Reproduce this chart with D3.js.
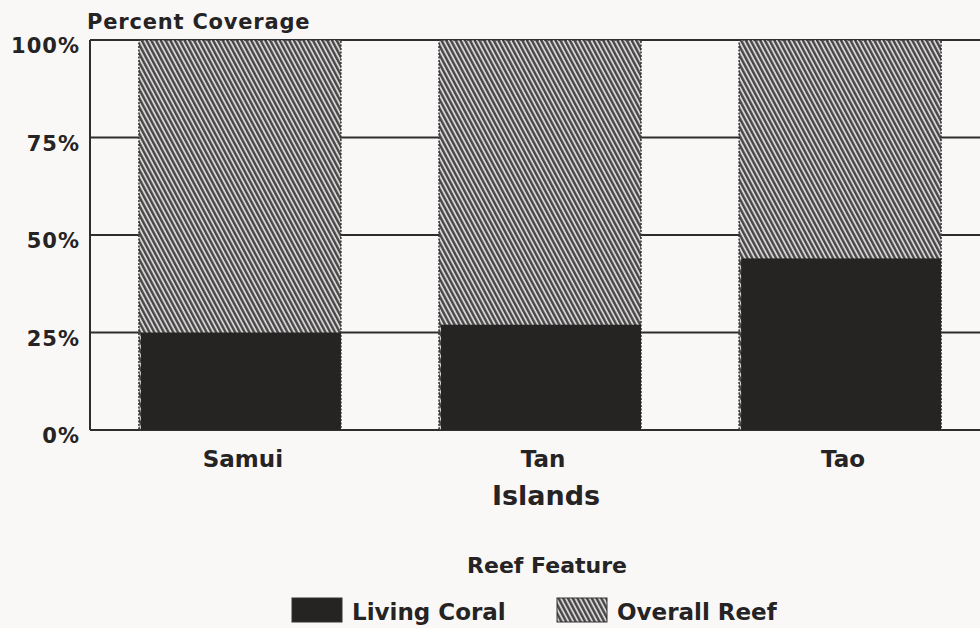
<!DOCTYPE html>
<html>
<head>
	<script src="https://d3js.org/d3.v7.min.js"></script>
	<style>
		body { margin: 0; background: #f9f8f7; }
		text { font-family: "DejaVu Sans", sans-serif; font-weight: bold; fill: #252323; }
	</style>
</head>
<body>
	<div class="chart"></div>
	<script>
		// data
		var islands = ["Samui", "Tan", "Tao"];
		var livingCoral = [25, 27, 44];
		var overallReef = [100, 100, 100];
		var yTicks = [0, 25, 50, 75, 100];
		var legendNames = ["Living Coral", "Overall Reef"];

		var w = 980, h = 628;
		var mLeft = 90, mTop = 40, mBottom = 430, mRight = 990;

		var svg = d3.select(".chart")
			.append("svg")
			.attr("width", w)
			.attr("height", h);

		// hatch for overall reef
		var defs = svg.append("defs");
		var pat = defs.append("pattern")
			.attr("id", "hatch")
			.attr("patternUnits", "userSpaceOnUse")
			.attr("width", 4.2)
			.attr("height", 10)
			.attr("patternTransform", "rotate(-28)");
		pat.append("rect")
			.attr("width", 4.2)
			.attr("height", 10)
			.attr("fill", "#d4d2d2");
		pat.append("line")
			.attr("x1", 1.2).attr("x2", 1.2)
			.attr("y1", 0).attr("y2", 10)
			.attr("stroke", "#464344")
			.attr("stroke-width", 2.3);

		var x = d3.scaleBand()
			.domain(islands)
			.range([mLeft, mRight])
			.paddingInner(0.327)
			.paddingOuter(0.163);

		var y = d3.scaleLinear()
			.domain([0, 100])
			.range([mBottom, mTop]);

		// gridlines (sit behind the bars)
		svg.append("g")
			.selectAll("line")
			.data(yTicks)
			.enter()
			.append("line")
			.attr("x1", mLeft)
			.attr("x2", w)
			.attr("y1", function(d) { return y(d); })
			.attr("y2", function(d) { return y(d); })
			.attr("stroke", "#2e2c2c")
			.attr("stroke-width", 1.8);

		// left border
		svg.append("line")
			.attr("x1", mLeft).attr("x2", mLeft)
			.attr("y1", y(100)).attr("y2", y(0))
			.attr("stroke", "#2e2c2c")
			.attr("stroke-width", 2);

		// overall reef (full bar, hatched)
		svg.append("g")
			.selectAll("rect")
			.data(islands)
			.enter()
			.append("rect")
			.attr("x", function(d) { return x(d); })
			.attr("y", function(d, i) { return y(overallReef[i]); })
			.attr("width", x.bandwidth())
			.attr("height", function(d, i) { return y(0) - y(overallReef[i]); })
			.attr("fill", "url(#hatch)")
			.attr("stroke", "#333")
			.attr("stroke-width", 1.5)
			.attr("stroke-dasharray", "2,1.5");

		// living coral
		svg.append("g")
			.selectAll("rect")
			.data(islands)
			.enter()
			.append("rect")
			.attr("x", function(d) { return x(d) + 2; })
			.attr("y", function(d, i) { return y(livingCoral[i]); })
			.attr("width", x.bandwidth() - 2)
			.attr("height", function(d, i) { return y(0) - y(livingCoral[i]); })
			.attr("fill", "#262323");

		// y tick labels
		svg.append("g")
			.selectAll("text")
			.data(yTicks)
			.enter()
			.append("text")
			.attr("x", 80)
			.attr("y", function(d) { return y(d) + 13; })
			.attr("text-anchor", "end")
			.style("font-size", "21px")
			.style("letter-spacing", "1px")
			.text(function(d) { return d + "%"; });

		svg.append("text")
			.attr("x", 87)
			.attr("y", 29)
			.style("font-size", "21px")
			.style("letter-spacing", "0.8px")
			.text("Percent Coverage");

		// category labels
		svg.append("g")
			.selectAll("text")
			.data(islands)
			.enter()
			.append("text")
			.attr("x", function(d) { return x(d) + x.bandwidth() / 2 + 3; })
			.attr("y", 467)
			.attr("text-anchor", "middle")
			.style("font-size", "23px")
			.text(function(d) { return d; });

		svg.append("text")
			.attr("x", 546)
			.attr("y", 505)
			.attr("text-anchor", "middle")
			.style("font-size", "27px")
			.text("Islands");

		// legend
		svg.append("text")
			.attr("x", 547)
			.attr("y", 573)
			.attr("text-anchor", "middle")
			.style("font-size", "22px")
			.text("Reef Feature");

		var legendX = [292, 557];
		var legendFill = ["#262323", "url(#hatch)"];
		var lg = svg.append("g")
			.selectAll("g")
			.data(legendNames)
			.enter()
			.append("g")
			.attr("transform", function(d, i) { return "translate(" + legendX[i] + ",598)"; });
		lg.append("rect")
			.attr("width", 50)
			.attr("height", 24)
			.attr("fill", function(d, i) { return legendFill[i]; })
			.attr("stroke", "#333")
			.attr("stroke-width", 1);
		lg.append("text")
			.attr("x", 60)
			.attr("y", 22)
			.style("font-size", "23px")
			.text(function(d) { return d; });
	</script>
</body>
</html>
